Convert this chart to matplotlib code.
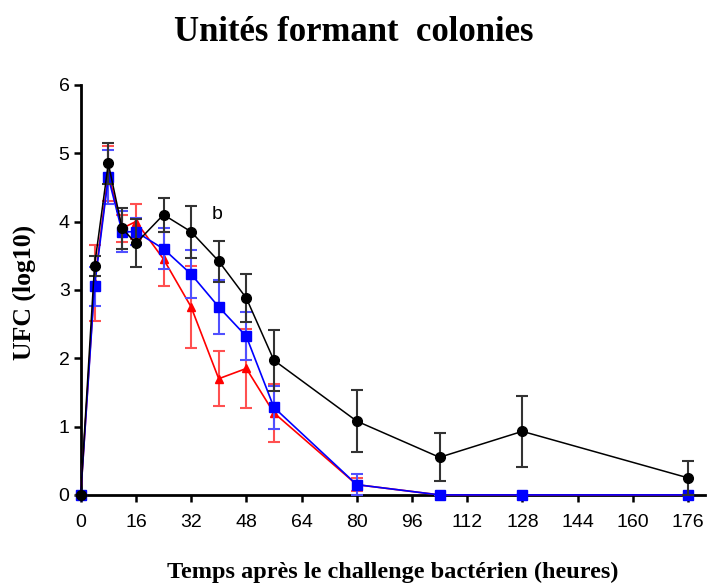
import numpy as np
import matplotlib.pyplot as plt

# --- Data ---
temps = [0, 4, 8, 12, 16, 24, 32, 40, 48, 56, 80, 104, 128, 176]

noir = [0, 3.35, 4.85, 3.9, 3.68, 4.1, 3.85, 3.42, 2.88, 1.97, 1.08, 0.55, 0.93, 0.25]
noir_err = [0, 0.15, 0.3, 0.3, 0.35, 0.25, 0.38, 0.3, 0.35, 0.45, 0.45, 0.35, 0.52, 0.25]

rouge = [0, 3.1, 4.7, 3.9, 4.0, 3.45, 2.75, 1.7, 1.85, 1.2, 0.15, 0, 0, 0]
rouge_err = [0, 0.55, 0.4, 0.2, 0.25, 0.4, 0.6, 0.4, 0.58, 0.42, 0.1, 0, 0, 0]

bleu = [0, 3.05, 4.65, 3.85, 3.85, 3.6, 3.23, 2.75, 2.32, 1.28, 0.15, 0, 0, 0]
bleu_err = [0, 0.28, 0.4, 0.3, 0.2, 0.3, 0.35, 0.4, 0.35, 0.32, 0.15, 0, 0, 0]

xticks = [0, 16, 32, 48, 64, 80, 96, 112, 128, 144, 160, 176]

fig = plt.figure(figsize=(7.08, 5.85), dpi=100)
ax = fig.add_axes([0.114, 0.154, 0.882, 0.701])

# series: red, blue, black (black on top)
ax.errorbar(temps, rouge, yerr=rouge_err, color='red', ecolor='#ff5050',
            marker='^', markersize=6, linewidth=1.2, elinewidth=1.5,
            capsize=4, capthick=1.5, zorder=3, clip_on=False)
ax.errorbar(temps, bleu, yerr=bleu_err, color='blue', ecolor='#5050ff',
            marker='s', markersize=7.5, linewidth=1.2, elinewidth=1.5,
            capsize=4, capthick=1.5, zorder=4, clip_on=False)
ax.errorbar(temps, noir, yerr=noir_err, color='black', ecolor='#333333',
            marker='o', markersize=7, linewidth=1.1, elinewidth=1.5,
            capsize=4, capthick=1.5, zorder=5, clip_on=False)

ax.text(39.5, 4.1, 'b', fontsize=14, family='Liberation Sans',
        ha='center', va='center')

ax.set_xlim(0, 181)
ax.set_ylim(0, 6)
ax.set_xticks(xticks)
ax.set_yticks(range(7))
for s in ['top', 'right']:
    ax.spines[s].set_visible(False)
for s in ['left', 'bottom']:
    ax.spines[s].set_linewidth(2)
ax.tick_params(direction='out', length=5, width=1.8, labelsize=14)
ax.tick_params(axis='x', pad=9)
ax.tick_params(axis='y', pad=3)
for lab in ax.get_xticklabels() + ax.get_yticklabels():
    lab.set_family('Liberation Sans')

fig.text(0.5, 0.945, 'Unités formant  colonies', ha='center', va='center',
         fontsize=25, fontweight='bold', family='Liberation Serif')
fig.text(0.555, 0.022, 'Temps après le challenge bactérien (heures)',
         ha='center', va='center', fontsize=17.5, fontweight='bold',
         family='Liberation Serif')
fig.text(0.035, 0.5, 'UFC (log10)', ha='center', va='center', rotation=90,
         fontsize=18.5, fontweight='bold', family='Liberation Serif')

fig.savefig('out.png', dpi=100)
